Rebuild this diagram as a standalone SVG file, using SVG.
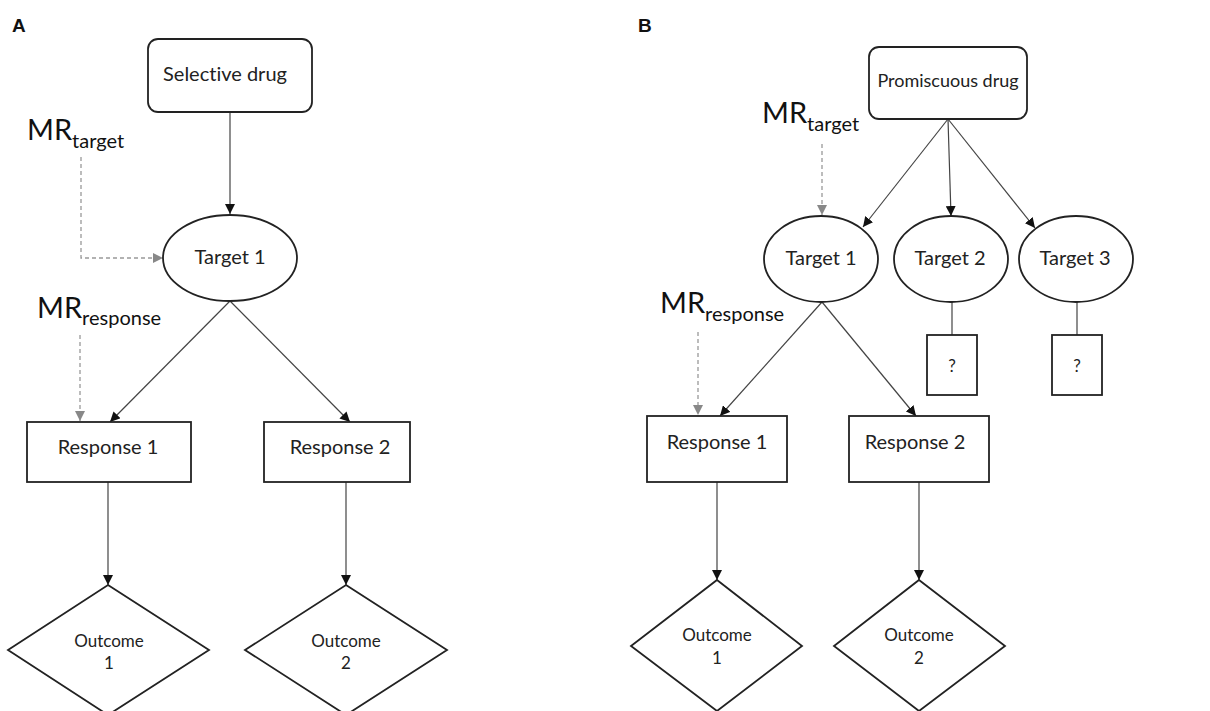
<svg xmlns="http://www.w3.org/2000/svg" width="1210" height="711" viewBox="0 0 1210 711">
<style>
text{font-variant-ligatures:none}
.n{fill:#fff;stroke:#222;stroke-width:1.8}
.t{font-family:Lato,"Open Sans",sans-serif;fill:#222;text-anchor:middle;font-size:20px}
.s{font-size:17px}
.mr{font-family:Lato,"Open Sans",sans-serif;fill:#111;font-size:29px}
.sub{font-size:20px}
.lab{font-family:"Liberation Sans",Arial,sans-serif;font-weight:bold;font-size:19px;fill:#111}
.c{stroke:#444;stroke-width:1.2;fill:none}
.ca{marker-end:url(#ah)}
.d{stroke:#999;stroke-width:1.3;fill:none;stroke-dasharray:4 3;marker-end:url(#gh)}
</style>
<defs>
<marker id="ah" viewBox="0 0 10 10" refX="10" refY="5" markerWidth="10" markerHeight="10" markerUnits="userSpaceOnUse" orient="auto"><path d="M0,0 L10,5 L0,10 z" fill="#111"/></marker>
<marker id="gh" viewBox="0 0 10 10" refX="10" refY="5" markerWidth="10" markerHeight="10" markerUnits="userSpaceOnUse" orient="auto"><path d="M0,0 L10,5 L0,10 z" fill="#888"/></marker>
</defs>
<rect width="1210" height="711" fill="#fff"/>
<text class="lab" x="12" y="32">A</text>
<text class="lab" x="638" y="32">B</text>
<g id="connectors">
<path class="c ca" d="M230,112 L230,214"/>
<path class="c ca" d="M230,301 L110,422"/>
<path class="c ca" d="M230,301 L350,422"/>
<path class="c ca" d="M108,482 L108,585"/>
<path class="c ca" d="M346,482 L346,585"/>
<path class="d" d="M81,157 L81,258 L163,258"/>
<path class="d" d="M80,335 L80,421"/>
<path class="c ca" d="M948,119 L863,227"/>
<path class="c ca" d="M948,119 L951,216"/>
<path class="c ca" d="M948,119 L1035,228"/>
<path class="c" d="M952,302 L952,335"/>
<path class="c" d="M1077,302 L1077,335"/>
<path class="c ca" d="M822,302 L720,416"/>
<path class="c ca" d="M822,302 L916,416"/>
<path class="c ca" d="M717,482 L717,580"/>
<path class="c ca" d="M919,482 L919,580"/>
<path class="d" d="M822,144 L822,215"/>
<path class="d" d="M698,332 L698,415"/>
</g>
<g id="mr-target-a"><text class="mr" x="27" y="140">MR<tspan class="sub" dy="8">target</tspan></text></g>
<g id="mr-response-a"><text class="mr" x="37" y="318">MR<tspan class="sub" dy="7">response</tspan></text></g>
<g id="mr-target-b"><text class="mr" x="762" y="123">MR<tspan class="sub" dy="8">target</tspan></text></g>
<g id="mr-response-b"><text class="mr" x="660" y="313">MR<tspan class="sub" dy="8">response</tspan></text></g>
<g id="selective-drug"><rect class="n" x="148" y="39" width="164" height="73" rx="10"/><text class="t" x="225" y="81">Selective drug</text></g>
<g id="a-target1"><ellipse class="n" cx="230" cy="258" rx="67" ry="43"/><text class="t" x="230" y="264">Target 1</text></g>
<g id="a-response1"><rect class="n" x="27" y="422" width="164" height="60"/><text class="t" x="108" y="454">Response 1</text></g>
<g id="a-response2"><rect class="n" x="264" y="422" width="146" height="60"/><text class="t" x="340" y="454">Response 2</text></g>
<g id="a-outcome1"><path class="n" d="M108,585 L209,650 L108,715 L8,650 Z"/><text class="t s" x="109" y="647">Outcome</text><text class="t s" x="109" y="669">1</text></g>
<g id="a-outcome2"><path class="n" d="M346,585 L447,650 L346,715 L245,650 Z"/><text class="t s" x="346" y="647">Outcome</text><text class="t s" x="346" y="669">2</text></g>
<g id="promiscuous-drug"><rect class="n" x="869" y="47" width="158" height="72" rx="10"/><text class="t" x="948" y="87" style="font-size:18px">Promiscuous drug</text></g>
<g id="b-target1"><ellipse class="n" cx="821" cy="259" rx="57" ry="43"/><text class="t" x="821" y="265">Target 1</text></g>
<g id="b-target2"><ellipse class="n" cx="951" cy="259" rx="57" ry="43"/><text class="t" x="950" y="265">Target 2</text></g>
<g id="b-target3"><ellipse class="n" cx="1076" cy="259" rx="57" ry="43"/><text class="t" x="1075" y="265">Target 3</text></g>
<g id="q2"><rect class="n" x="927" y="335" width="50" height="60"/><text class="t s" x="952" y="372">?</text></g>
<g id="q3"><rect class="n" x="1052" y="335" width="50" height="60"/><text class="t s" x="1077" y="372">?</text></g>
<g id="b-response1"><rect class="n" x="647" y="416" width="140" height="66"/><text class="t" x="717" y="449">Response 1</text></g>
<g id="b-response2"><rect class="n" x="849" y="416" width="140" height="66"/><text class="t" x="915" y="449">Response 2</text></g>
<g id="b-outcome1"><path class="n" d="M717,580 L802,646 L717,711 L631,646 Z"/><text class="t s" x="717" y="641">Outcome</text><text class="t s" x="717" y="664">1</text></g>
<g id="b-outcome2"><path class="n" d="M919,580 L1005,646 L919,711 L834,646 Z"/><text class="t s" x="919" y="641">Outcome</text><text class="t s" x="919" y="664">2</text></g>
</svg>
